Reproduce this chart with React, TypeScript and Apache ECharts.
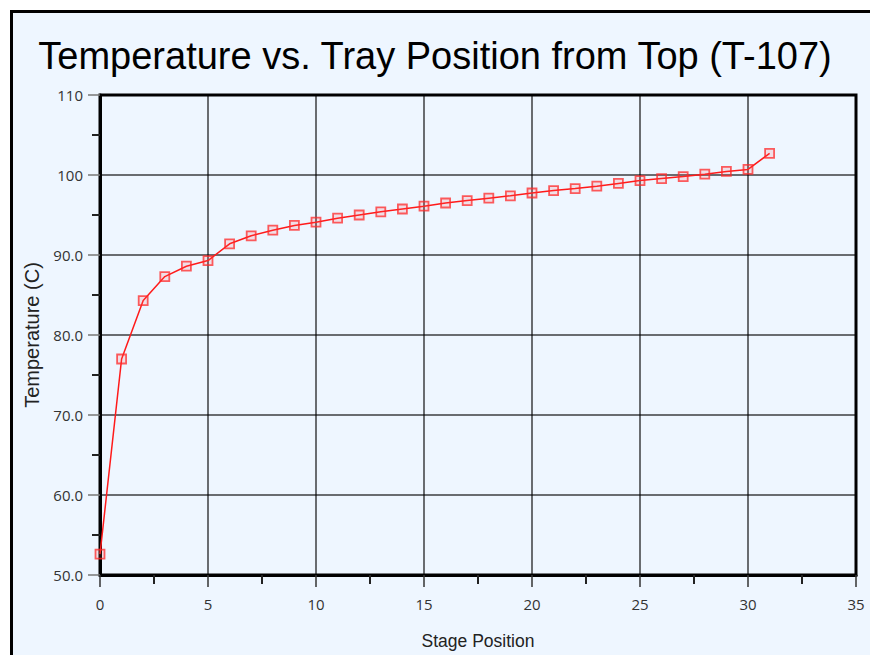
import React, { useEffect, useRef } from "react";
import * as echarts from "echarts";

const stages = [0, 1, 2, 3, 4, 5, 6, 7, 8, 9, 10, 11, 12, 13, 14, 15, 16, 17, 18, 19, 20, 21, 22, 23, 24, 25, 26, 27, 28, 29, 30, 31];
const temperatures = [52.6, 77.0, 84.3, 87.3, 88.6, 89.3, 91.4, 92.4, 93.1, 93.7, 94.1, 94.6, 95.0, 95.4, 95.75, 96.1, 96.5, 96.8, 97.1, 97.4, 97.75, 98.05, 98.3, 98.6, 98.95, 99.3, 99.55, 99.8, 100.1, 100.45, 100.7, 102.7];

const title = "Temperature vs. Tray Position from Top (T-107)";
const xName = "Stage Position";
const yName = "Temperature (C)";

export default function App() {
  const ref = useRef<HTMLDivElement>(null);
  useEffect(() => {
    if (!ref.current) return;
    const chart = echarts.init(ref.current, undefined, { renderer: "svg" });
    const labelFont = "'Open Sans', 'Noto Sans', sans-serif";
    const nameFont = "'Liberation Sans', Arial, sans-serif";
    chart.setOption({
      animation: false,
      backgroundColor: "#ffffff",
      graphic: [
        {
          type: "rect",
          z: -10,
          silent: true,
          shape: { x: 11.5, y: 11.5, width: 900, height: 700 },
          style: { fill: "#eef6ff", stroke: "#000", lineWidth: 3 },
        },
      ],
      title: {
        text: title,
        left: "center",
        top: 32,
        textStyle: { fontSize: 38, fontWeight: "normal", color: "#000", fontFamily: nameFont },
      },
      grid: {
        left: 100,
        right: 14,
        top: 95,
        bottom: 80,
        show: true,
        borderColor: "#000",
        borderWidth: 3,
        backgroundColor: "transparent",
      },
      xAxis: {
        type: "value",
        min: 0,
        max: 35,
        interval: 5,
        name: xName,
        nameLocation: "middle",
        nameGap: 57,
        nameTextStyle: { fontSize: 17.5, color: "#222", fontFamily: nameFont },
        axisLine: { show: true, lineStyle: { color: "#000", width: 3 } },
        axisTick: { show: true, length: 12, lineStyle: { color: "#333", width: 1.5 } },
        minorTick: { show: true, splitNumber: 2, length: 9, lineStyle: { color: "#222", width: 2 } },
        axisLabel: { fontSize: 15, color: "#333", margin: 21, fontFamily: labelFont },
        splitLine: { show: true, lineStyle: { color: "rgba(0,0,0,0.75)", width: 1.5 } },
      },
      yAxis: {
        type: "value",
        min: 50,
        max: 110,
        interval: 10,
        name: yName,
        nameLocation: "middle",
        nameGap: 57,
        nameTextStyle: { fontSize: 20, color: "#222", fontFamily: nameFont },
        axisLine: { show: true, lineStyle: { color: "#000", width: 3 } },
        axisTick: { show: true, length: 12, lineStyle: { color: "#777", width: 1.5 } },
        minorTick: { show: true, splitNumber: 2, length: 8, lineStyle: { color: "#222", width: 2 } },
        axisLabel: {
          fontSize: 15,
          color: "#333",
          margin: 17,
          fontFamily: labelFont,
          formatter: (v: number) => (v >= 100 ? String(v) : v.toFixed(1)),
        },
        splitLine: { show: true, lineStyle: { color: "rgba(0,0,0,0.75)", width: 1.5 } },
      },
      series: [
        {
          type: "line",
          data: stages.map((s, i) => [s, temperatures[i]]),
          symbol: "rect",
          symbolSize: 9,
          lineStyle: { color: "#ff1a1a", width: 1.5 },
          itemStyle: { color: "rgba(255,90,90,0.15)", borderColor: "rgba(255,40,40,0.75)", borderWidth: 1.8 },
          z: 5,
        },
      ],
    });
    return () => chart.dispose();
  }, []);
  return (
    <div
      ref={ref}
      style={{ position: "fixed", left: 0, top: 0, width: 870, height: 655 }}
    />
  );
}
